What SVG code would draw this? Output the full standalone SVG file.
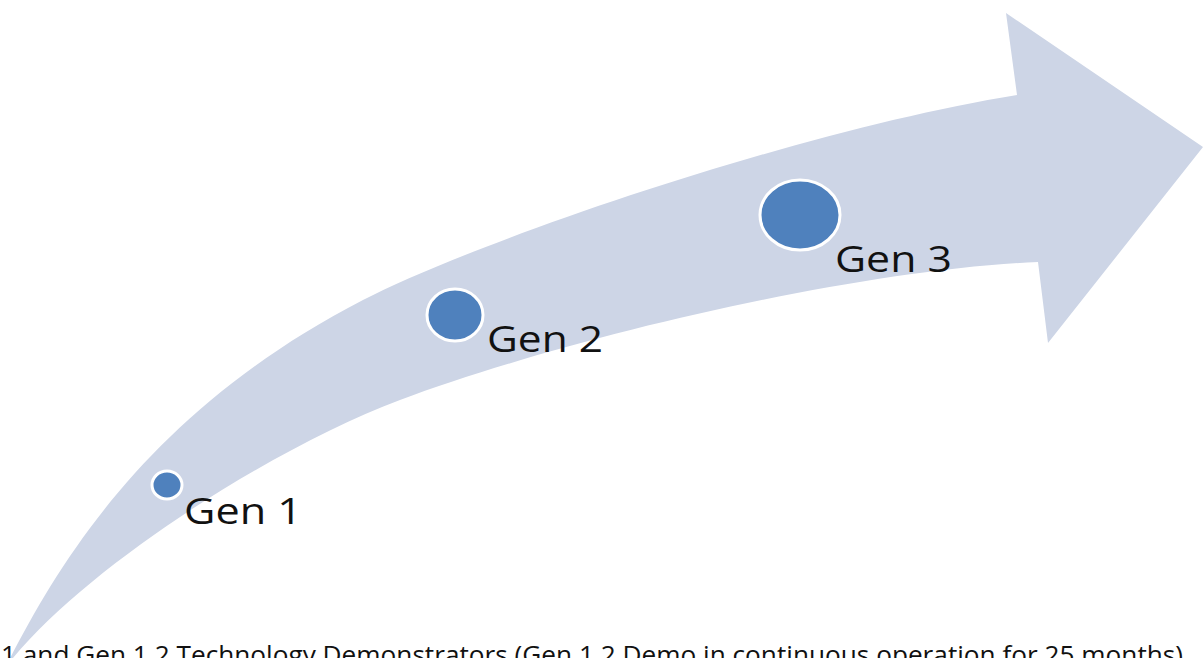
<svg xmlns="http://www.w3.org/2000/svg" width="1204" height="658" viewBox="0 0 1204 658">
<style>
.band{fill:#CDD5E6;stroke:none}
.dot{fill:#4F81BD;stroke:#FFFFFF;stroke-width:3}
.lbl{font-family:"Open Sans","Liberation Sans",sans-serif;font-size:36px;fill:#111111}
.cap{font-family:"Open Sans","Liberation Sans",sans-serif;font-size:25px;fill:#111111}
</style>
<rect width="1204" height="658" fill="#FFFFFF"/>
<g id="connectors">
<path class="band" d="M 5 668 C 60 560, 150 410, 363 300 C 480 240, 800 130, 1017 95 L 1006 13 L 1203 147 L 1048 343 L 1038 262 C 850 270, 560 340, 400 400 C 272 448, 80 570, 5 668 Z"/>
</g>
<g id="gen1">
<ellipse class="dot" cx="167" cy="485" rx="15" ry="14"/>
<text class="lbl" x="184" y="524" textLength="118" lengthAdjust="spacingAndGlyphs">Gen 1</text>
</g>
<g id="gen2">
<ellipse class="dot" cx="455" cy="315" rx="28" ry="26"/>
<text class="lbl" x="487" y="352" textLength="116" lengthAdjust="spacingAndGlyphs">Gen 2</text>
</g>
<g id="gen3">
<ellipse class="dot" cx="800" cy="215" rx="40" ry="35"/>
<text class="lbl" x="835" y="272" textLength="117" lengthAdjust="spacingAndGlyphs">Gen 3</text>
</g>
<g id="caption">
<text class="cap" x="1" y="664" textLength="1182" lengthAdjust="spacingAndGlyphs">1 and Gen 1.2 Technology Demonstrators (Gen 1.2 Demo in continuous operation for 25 months)</text>
</g>
</svg>
